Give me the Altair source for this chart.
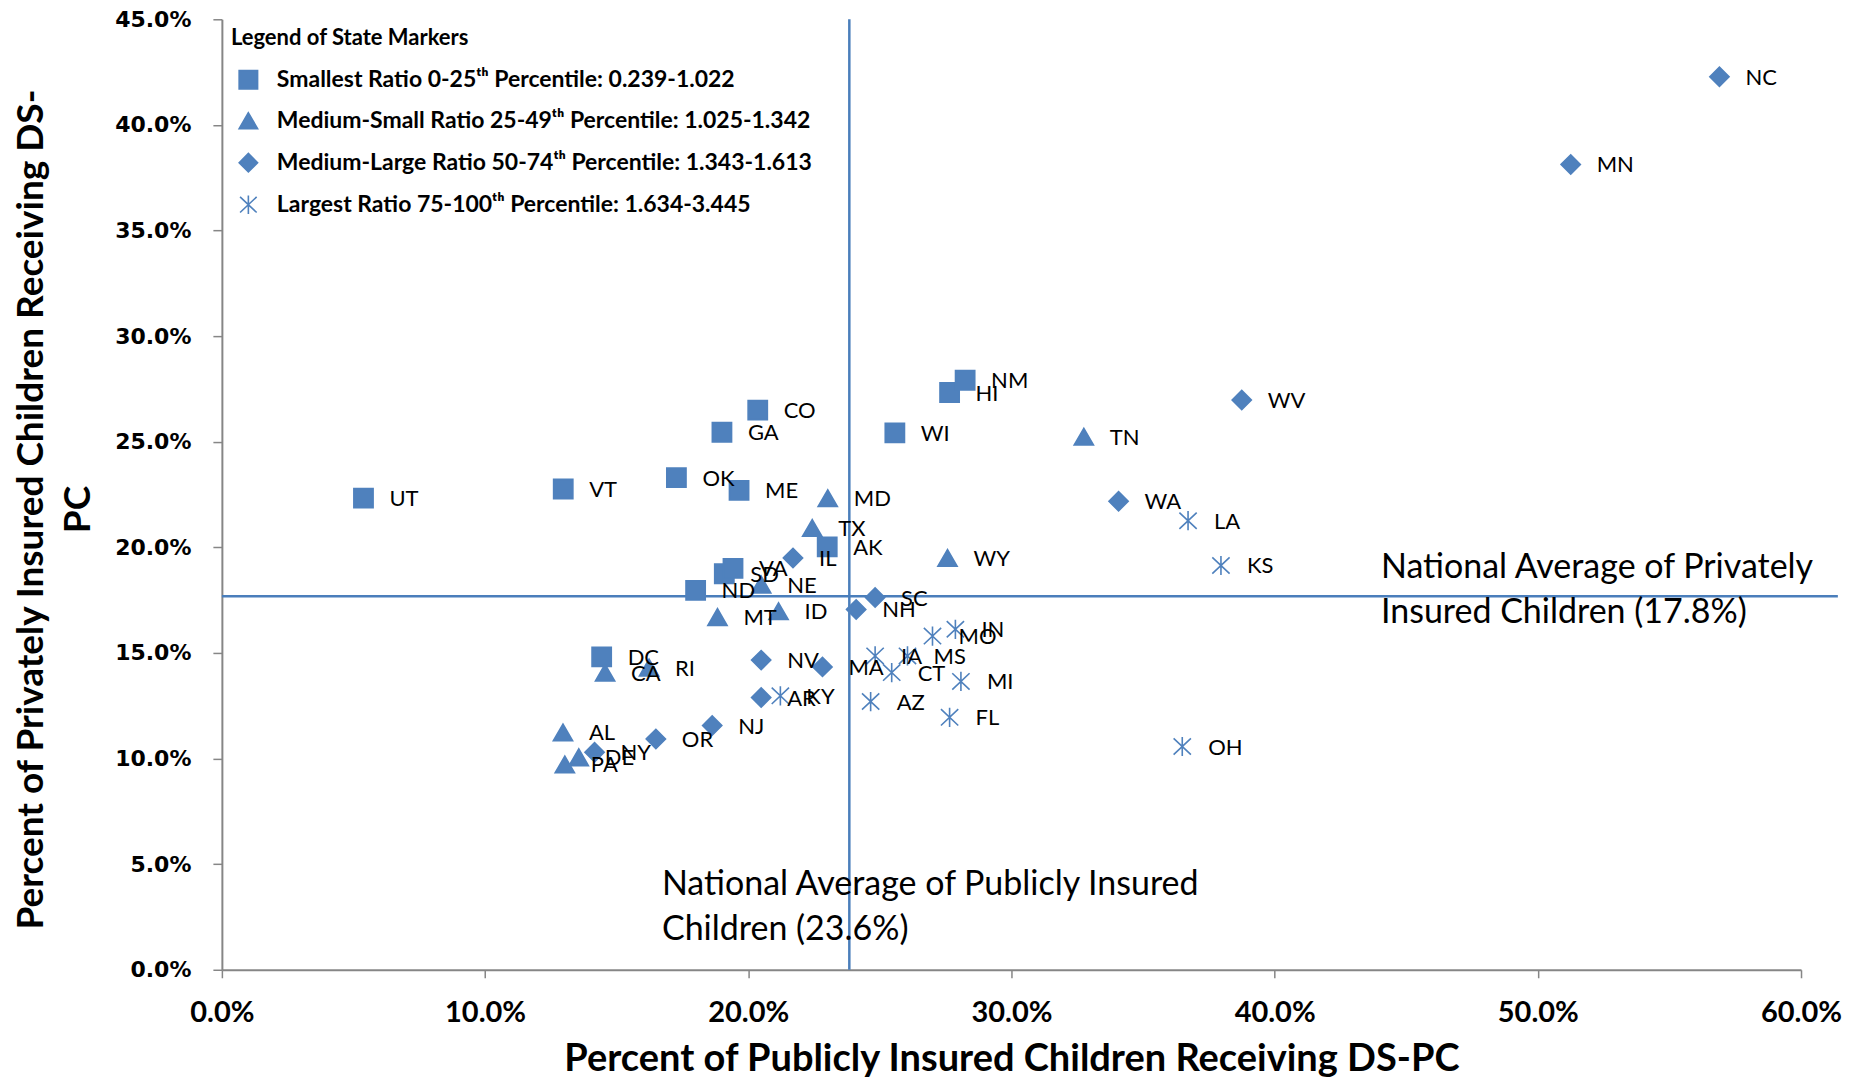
import altair as alt
import pandas as pd

# ---------------- data (percent values) ----------------
states = ["UT", "VT", "OK", "ME", "GA", "CO", "WI", "HI", "NM", "AK", "SD", "VA", "ND", "DC",
          "MD", "TX", "NE", "MT", "ID", "WY", "TN", "CA", "RI", "AL", "DE", "PA",
          "IL", "SC", "NH", "NV", "MA", "AR", "NJ", "OR", "NY", "WA", "WV", "MN", "NC",
          "LA", "KS", "OH", "IN", "MO", "IA", "MS", "CT", "MI", "AZ", "FL", "KY"]

public_pct = [5.38, 12.97, 17.27, 19.65, 19.00, 20.36, 25.57, 27.65, 28.24, 23.00, 19.09, 19.42, 18.00, 14.43,
              23.02, 22.43, 20.49, 18.83, 21.15, 27.57, 32.75, 14.56, 16.23, 12.96, 13.56, 13.03,
              21.70, 24.82, 24.10, 20.49, 22.82, 20.49, 18.63, 16.49, 14.16, 34.07, 38.75, 51.25, 56.90,
              36.71, 37.96, 36.49, 27.87, 27.00, 24.82, 26.05, 25.45, 28.08, 24.65, 27.65, 21.22]

private_pct = [22.33, 22.76, 23.30, 22.70, 25.45, 26.50, 25.42, 27.33, 27.91, 20.02, 18.75, 19.00, 17.96, 14.81,
               22.33, 20.92, 18.24, 16.70, 16.98, 19.50, 25.24, 14.07, 14.31, 11.24, 10.06, 9.72,
               19.50, 17.62, 17.06, 14.66, 14.34, 12.89, 11.56, 10.93, 10.30, 22.18, 26.97, 38.13, 42.28,
               21.26, 19.14, 10.57, 16.12, 15.80, 14.86, 14.86, 14.07, 13.65, 12.70, 11.95, 12.97]

group_codes = [0] * 14 + [1] * 12 + [2] * 13 + [3] * 12

group_names = [
    "Smallest Ratio 0-25\u1d57\u02b0 Percentile: 0.239-1.022",
    "Medium-Small Ratio 25-49\u1d57\u02b0 Percentile: 1.025-1.342",
    "Medium-Large Ratio 50-74\u1d57\u02b0 Percentile: 1.343-1.613",
    "Largest Ratio 75-100\u1d57\u02b0 Percentile: 1.634-3.445",
]

national_avg_public = 23.84   # vertical reference line (as drawn)
national_avg_private = 17.68  # horizontal reference line (as drawn)

annotation_text = ["National Average of Privately\nInsured Children (17.8%)",
                   "National Average of Publicly Insured\nChildren (23.6%)"]
annotation_x = [44.04, 16.72]
annotation_y = [19.83, 4.83]

x_ticks = [0, 10, 20, 30, 40, 50, 60]
y_ticks = [0, 5, 10, 15, 20, 25, 30, 35, 40, 45]

# ---------------- styling ----------------
FONT = "Lato, 'DejaVu Sans', sans-serif"
TICK_FONT_Y = "'DejaVu Sans', Verdana, sans-serif"
BLUE = "#4F81BD"
LINE = "#4A7EBB"
AXIS_GRAY = "#868686"
ASTERISK = "M0,-1L0,1M-0.9,-0.85L0.9,0.85M-0.9,0.85L0.9,-0.85"

df = pd.DataFrame({
    "state": states,
    "public": [v / 100 for v in public_pct],
    "private": [v / 100 for v in private_pct],
    "group": [group_names[c] for c in group_codes],
})

x_scale = alt.Scale(domain=[0, 0.6], nice=False, zero=False)
y_scale = alt.Scale(domain=[0, 0.45], nice=False, zero=False)

x_axis = alt.Axis(
    format=".1%", values=[v / 100 for v in x_ticks], grid=False,
    title="Percent of Publicly Insured Children Receiving DS-PC",
    titleFont=FONT, titleFontSize=38, titleFontWeight="bold", titleColor="black", titlePadding=13,
    labelFont=FONT, labelFontSize=29, labelFontWeight="bold", labelColor="black", labelPadding=21,
    labelFlush=False, labelOverlap=False,
    domainColor=AXIS_GRAY, domainWidth=2, tickColor=AXIS_GRAY, tickWidth=1.5, tickSize=8,
)
y_axis = alt.Axis(
    format=".1%", values=[v / 100 for v in y_ticks], grid=False,
    title=["Percent of Privately Insured Children Receiving DS-", "PC"],
    titleFont=FONT, titleFontSize=37, titleFontWeight="bold", titleColor="black", titlePadding=17,
    titleLineHeight=47, titleY=490,
    labelFont=TICK_FONT_Y, labelFontSize=22, labelFontWeight="bold", labelColor="black", labelPadding=22,
    labelFlush=False, labelOverlap=False,
    domainColor=AXIS_GRAY, domainWidth=2, tickColor=AXIS_GRAY, tickWidth=1.5, tickSize=9,
)

legend = alt.Legend(
    title="Legend of State Markers", orient="none", legendX=9, legendY=9,
    direction="vertical", padding=0,
    titleFont=FONT, titleFontSize=22, titleFontWeight="bold", titleColor="black",
    titlePadding=18, titleLimit=1000,
    labelFont=FONT, labelFontSize=23, labelFontWeight="bold", labelColor="black",
    labelLimit=1000, labelOffset=17,
    symbolSize=340, symbolOffset=6, rowPadding=17, symbolStrokeWidth=1.6,
)


def X():
    return alt.X("public:Q", scale=x_scale, axis=x_axis)


def Y():
    return alt.Y("private:Q", scale=y_scale, axis=y_axis)


vline_df = pd.DataFrame({"public": [national_avg_public / 100], "private": [0.0], "private2": [0.45]})
hline_df = pd.DataFrame({"public": [0.0], "public2": [0.614], "private": [national_avg_private / 100]})
ann_df = pd.DataFrame({"public": [v / 100 for v in annotation_x],
                       "private": [v / 100 for v in annotation_y],
                       "text": annotation_text})

vline = alt.Chart(vline_df).mark_rule(color=LINE, strokeWidth=2.5).encode(
    x=X(), y=Y(), y2="private2:Q")
hline = alt.Chart(hline_df).mark_rule(color=LINE, strokeWidth=2.5).encode(
    x=X(), x2="public2:Q", y=Y())

points = alt.Chart(df).mark_point(
    filled=True, strokeWidth=1.6, opacity=1, size=370
).encode(
    x=X(), y=Y(),
    shape=alt.Shape(
        "group:N",
        scale=alt.Scale(domain=group_names, range=["square", "triangle-up", "diamond", ASTERISK]),
        legend=legend,
    ),
    fill=alt.Fill(
        "group:N",
        scale=alt.Scale(domain=group_names, range=[BLUE, BLUE, BLUE, BLUE]),
        legend=legend,
    ),
    stroke=alt.Stroke(
        "group:N",
        scale=alt.Scale(domain=group_names, range=[BLUE, BLUE, BLUE, BLUE]),
        legend=legend,
    ),
)

labels = alt.Chart(df).mark_text(
    align="left", baseline="middle", dx=26, dy=1, font=FONT, fontSize=22, color="black"
).encode(x=X(), y=Y(), text="state:N")

annotations = alt.Chart(ann_df).mark_text(
    align="left", baseline="top", font=FONT, fontSize=34, lineHeight=45, lineBreak="\n", color="black"
).encode(x=X(), y=Y(), text="text:N")

chart = alt.layer(vline, hline, points, labels, annotations).properties(
    width=1580, height=951,
    padding={"left": 4, "top": 0, "right": 0, "bottom": 0},
    background="white",
).configure_view(stroke=None)

chart.save("out.html", embed_options={"renderer": "svg", "actions": False})
